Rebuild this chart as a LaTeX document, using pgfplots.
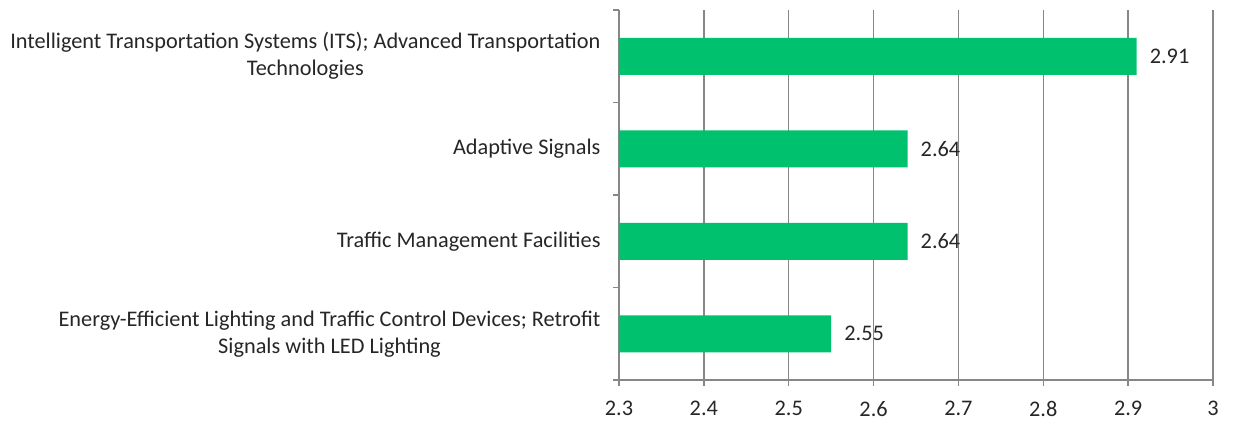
\documentclass[border=0pt]{standalone}
\usepackage{fontspec}
\setmainfont{Carlito}
\usepackage{pgfplots}
\pgfplotsset{compat=1.18}
\definecolor{barg}{HTML}{00C16E}
\definecolor{gridg}{HTML}{878787}
\newcommand{\lblfont}{\fontsize{22.3bp}{27bp}\selectfont}
\begin{document}
\begin{tikzpicture}[font=\lblfont]
\begin{axis}[
  at={(0,0)}, anchor=south west,
  scale only axis, width=594bp, height=370bp,
  xbar, bar width=37bp,
  xmin=2.3, xmax=3,
  ymin=-0.5, ymax=3.5, y dir=reverse,
  xtick={2.3,2.4,2.5,2.6,2.7,2.8,2.9,3},
  /pgf/number format/assume math mode=true,
  ytick={0,1,2,3},
  yticklabels={{Intelligent Transportation Systems (ITS); Advanced Transportation\\Technologies},
    {Adaptive Signals},
    {Traffic Management Facilities},
    {Energy-Efficient Lighting and Traffic Control Devices; Retrofit\\Signals with LED Lighting}},
  minor ytick={-0.5,0.5,1.5,2.5,3.5},
  tick align=outside,
  major tick length=6bp, minor tick length=6bp,
  major y tick style={draw=none},
  major x tick style={draw=gridg, line width=1.5bp},
  minor y tick style={draw=gridg, line width=1.5bp},
  axis x line*=bottom, axis y line*=left,
  axis line style={draw=gridg, line width=1.5bp, -},
  xmajorgrids, major grid style={draw=gridg, line width=1.5bp},
  tick label style={font=\lblfont, text=black!85},
  yticklabel style={align=center, xshift=-9bp},
  xticklabel style={yshift=-12bp},
  nodes near coords={\pgfmathprintnumber[fixed,precision=2,zerofill]{\pgfplotspointmeta}},
  every node near coord/.append style={anchor=west, inner sep=0pt, xshift=13bp, text=black!85,
    font=\lblfont},
]
\addplot[fill=barg, draw=none] coordinates {
  (2.91,0) (2.64,1) (2.64,2) (2.55,3)
};
\end{axis}
\path (-619bp,-41bp) rectangle (614bp,380bp);
\end{tikzpicture}
\end{document}
